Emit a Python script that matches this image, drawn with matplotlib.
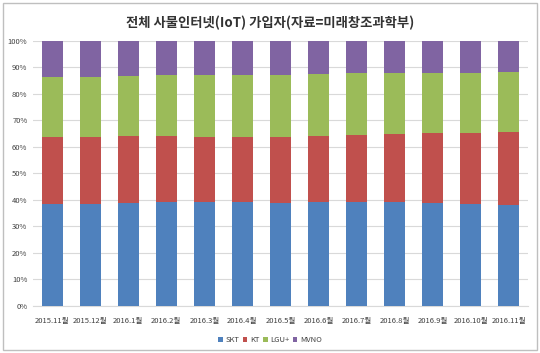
import numpy as np
import matplotlib
matplotlib.use("Agg")
import matplotlib.pyplot as plt
from matplotlib.patches import Rectangle
from matplotlib.ticker import PercentFormatter

plt.rcParams['font.family'] = ['Noto Sans CJK KR', 'DejaVu Sans']

months = ['2015.11월', '2015.12월', '2016.1월', '2016.2월', '2016.3월', '2016.4월',
          '2016.5월', '2016.6월', '2016.7월', '2016.8월', '2016.9월', '2016.10월', '2016.11월']
# shares in percent
skt = [38.4, 38.5, 38.8, 39.1, 39.3, 39.3, 38.8, 39.1, 39.1, 39.1, 38.7, 38.3, 38.1]
kt = [25.4, 25.3, 25.3, 25.0, 24.5, 24.4, 24.9, 25.1, 25.4, 25.7, 26.4, 26.9, 27.6]
lgu = [22.5, 22.6, 22.6, 22.9, 23.2, 23.5, 23.5, 23.2, 23.2, 23.0, 22.9, 22.8, 22.6]
mvno = [13.7, 13.6, 13.3, 13.0, 13.0, 12.8, 12.8, 12.6, 12.3, 12.2, 12.0, 12.0, 11.7]

series = [('SKT', skt, '#4F81BD'), ('KT', kt, '#C0504D'),
          ('LGU+', lgu, '#9BBB59'), ('MVNO', mvno, '#8064A2')]

fig = plt.figure(figsize=(5.4, 3.53), dpi=100)
ax = fig.add_axes([33/540, 1 - 306/353, 495/540, 265.3/353])

x = np.arange(len(months))
bottom = np.zeros(len(months))
for name, vals, col in series:
    vals = np.array(vals)
    ax.bar(x, vals, 0.55, bottom=bottom, color=col, label=name, zorder=3)
    bottom += vals

ax.set_xlim(-0.5, len(months) - 0.5)
ax.set_ylim(0, 100)
ax.set_yticks(np.arange(0, 101, 10))
ax.yaxis.set_major_formatter(PercentFormatter(decimals=0))
ax.set_xticks(x)
ax.set_xticklabels(months)
ax.tick_params(axis='both', length=0, labelsize=5.5, colors='#404040', pad=8)
ax.tick_params(axis='y', pad=4)
ax.grid(axis='y', color='#D9D9D9', linewidth=0.8, zorder=0)
for s in ['top', 'right', 'left']:
    ax.spines[s].set_visible(False)
ax.spines['bottom'].set_color('#D9D9D9')

fig.text(0.5, 1 - 23/353, '전체 사물인터넷(IoT) 가입자(자료=미래창조과학부)',
         ha='center', va='center', fontsize=9.6, fontweight='bold', color='#333333')

fig.legend(loc='center', bbox_to_anchor=(0.5, 1 - 340/353), ncol=4, frameon=False,
           fontsize=5.5, handlelength=0.6, handleheight=0.6, handletextpad=0.3,
           columnspacing=0.5, labelcolor='#404040')

fig.patches.append(Rectangle((3/540, 3/353), 534/540, 347/353, transform=fig.transFigure,
                             fill=False, edgecolor='#BFBFBF', linewidth=1))

fig.savefig('out.png', dpi=100)
